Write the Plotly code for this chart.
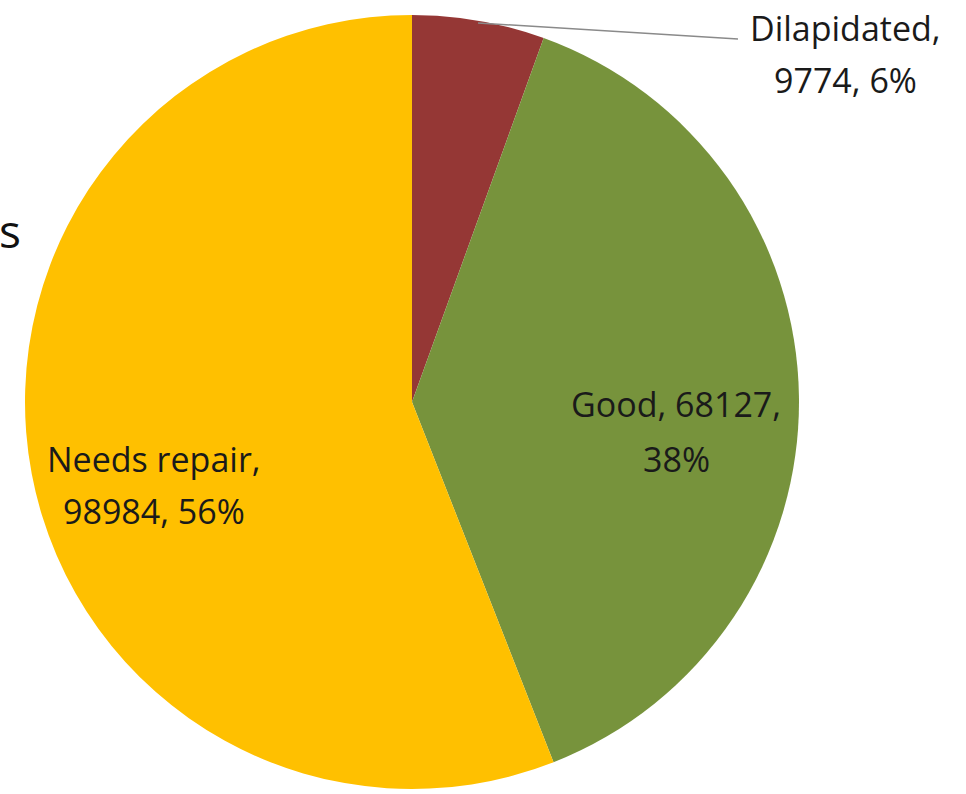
import plotly.graph_objects as go

W, H = 966, 794

categories = ["Dilapidated", "Good", "Needs repair"]
values = [9774, 68127, 98984]
pct_labels = ["6%", "38%", "56%"]
colors = ["#953735", "#77933C", "#FFC000"]

# label lines per category, built from the data
label_lines = {
    "Dilapidated": (f"{categories[0]},", f"{values[0]}, {pct_labels[0]}"),
    "Good": (f"{categories[1]}, {values[1]},", f"{pct_labels[1]}"),
    "Needs repair": (f"{categories[2]},", f"{values[2]}, {pct_labels[2]}"),
}
# pixel centres of each label line (x, y_line1, y_line2)
label_pos = {
    "Dilapidated": (845, 28, 80),
    "Good": (676, 404, 459),
    "Needs repair": (154, 459, 511),
}

cx, cy, r = 412, 402, 387

fig = go.Figure(go.Pie(
    labels=categories,
    values=values,
    marker=dict(colors=colors, line=dict(width=0)),
    sort=False,
    direction="clockwise",
    rotation=0,
    textinfo="none",
    hoverinfo="label+value+percent",
    showlegend=False,
    domain=dict(x=[(cx - r) / W, (cx + r) / W], y=[(H - cy - r) / H, (H - cy + r) / H]),
))

font = dict(family="Open Sans, Noto Sans, sans-serif", size=34, color="#1a1a1a")
annotations = []
for cat in categories:
    l1, l2 = label_lines[cat]
    x, y1, y2 = label_pos[cat]
    for txt, yy in ((l1, y1), (l2, y2)):
        annotations.append(dict(
            text=txt, x=x / W, y=1 - yy / H, xref="paper", yref="paper",
            xanchor="center", yanchor="middle", showarrow=False, font=font,
        ))

# partially visible text at the left edge
annotations.append(dict(
    text="s", x=-3 / W, y=1 - 230 / H, xref="paper", yref="paper",
    xanchor="left", yanchor="middle", showarrow=False,
    font=dict(family="Open Sans, Noto Sans, sans-serif", size=46, color="#111111"),
))

shapes = [dict(
    type="line", xref="paper", yref="paper",
    x0=478 / W, y0=1 - 23 / H, x1=738 / W, y1=1 - 39 / H,
    line=dict(color="#8a8a8a", width=1.5),
)]

fig.update_layout(
    width=W, height=H,
    margin=dict(l=0, r=0, t=0, b=0),
    paper_bgcolor="white",
    plot_bgcolor="white",
    annotations=annotations,
    shapes=shapes,
)

fig.write_html("out.html")
